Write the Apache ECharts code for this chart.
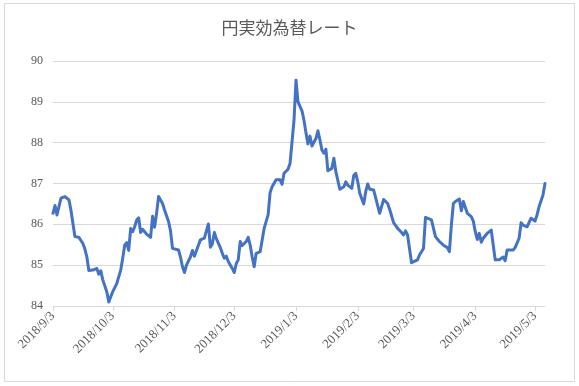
<!DOCTYPE html>
<html>
<head>
<meta charset="utf-8">
<script src="https://cdn.jsdelivr.net/npm/echarts@6/dist/echarts.min.js"></script>
<style>
html,body{margin:0;padding:0;background:#fff;}
#c{width:579px;height:386px;}
</style>
</head>
<body>
<div id="c"></div>
<script>
const title = '円実効為替レート';
const dates = [
'2018-09-03','2018-09-04','2018-09-05','2018-09-06','2018-09-07','2018-09-09','2018-09-10','2018-09-11','2018-09-12','2018-09-13',
'2018-09-14','2018-09-16','2018-09-17','2018-09-18','2018-09-19','2018-09-20','2018-09-21','2018-09-23','2018-09-24','2018-09-25',
'2018-09-26','2018-09-27','2018-09-28','2018-09-30','2018-10-01','2018-10-02','2018-10-03','2018-10-04','2018-10-05','2018-10-07',
'2018-10-08','2018-10-09','2018-10-10','2018-10-11','2018-10-12','2018-10-13','2018-10-14','2018-10-15','2018-10-16','2018-10-17',
'2018-10-18','2018-10-19','2018-10-20','2018-10-22','2018-10-23','2018-10-24','2018-10-25','2018-10-26','2018-10-28','2018-10-29',
'2018-10-31','2018-11-01','2018-11-02','2018-11-03','2018-11-05','2018-11-06','2018-11-07','2018-11-08','2018-11-09','2018-11-11',
'2018-11-12','2018-11-13','2018-11-14','2018-11-15','2018-11-16','2018-11-18','2018-11-19','2018-11-20','2018-11-21','2018-11-22',
'2018-11-23','2018-11-24','2018-11-26','2018-11-27','2018-11-28','2018-11-29','2018-11-30','2018-12-02','2018-12-03','2018-12-04',
'2018-12-05','2018-12-06','2018-12-07','2018-12-09','2018-12-10','2018-12-11','2018-12-12','2018-12-13','2018-12-14','2018-12-16',
'2018-12-17','2018-12-18','2018-12-19','2018-12-20','2018-12-21','2018-12-22','2018-12-24','2018-12-26','2018-12-27','2018-12-28',
'2018-12-30','2018-12-31','2019-01-01','2019-01-02','2019-01-03','2019-01-04','2019-01-06','2019-01-07','2019-01-08','2019-01-09',
'2019-01-10','2019-01-11','2019-01-13','2019-01-14','2019-01-15','2019-01-16','2019-01-17','2019-01-18','2019-01-19','2019-01-20',
'2019-01-21','2019-01-22','2019-01-23','2019-01-24','2019-01-25','2019-01-27','2019-01-28','2019-01-29','2019-01-31','2019-02-01',
'2019-02-02','2019-02-03','2019-02-04','2019-02-06','2019-02-07','2019-02-08','2019-02-09','2019-02-11','2019-02-12','2019-02-14',
'2019-02-15','2019-02-16','2019-02-18','2019-02-19','2019-02-21','2019-02-22','2019-02-23','2019-02-25','2019-02-26','2019-02-27',
'2019-02-28','2019-03-02','2019-03-03','2019-03-05','2019-03-06','2019-03-08','2019-03-09','2019-03-10','2019-03-12','2019-03-14',
'2019-03-16','2019-03-18','2019-03-20','2019-03-21','2019-03-22','2019-03-23','2019-03-24','2019-03-26','2019-03-27','2019-03-28',
'2019-03-29','2019-03-30','2019-04-01','2019-04-02','2019-04-03','2019-04-04','2019-04-05','2019-04-06','2019-04-07','2019-04-09',
'2019-04-10','2019-04-11','2019-04-12','2019-04-13','2019-04-15','2019-04-16','2019-04-17','2019-04-18','2019-04-19','2019-04-22',
'2019-04-23','2019-04-25','2019-04-26','2019-04-27','2019-04-29','2019-04-30','2019-05-01','2019-05-02','2019-05-03','2019-05-04',
'2019-05-05','2019-05-07','2019-05-08'
];
const values = [
86.27,86.46,86.23,86.20,86.64,86.68,86.70,86.60,86.35,86.02,
85.70,85.68,85.66,85.53,85.40,85.20,84.87,84.88,84.92,84.92,
84.78,84.86,84.64,84.35,84.10,84.23,84.35,84.38,84.55,84.88,
85.17,85.49,85.55,85.36,85.90,85.82,85.94,86.10,86.16,85.80,
85.88,85.82,85.76,85.68,86.20,85.93,86.27,86.68,86.51,86.35,
86.07,85.84,85.41,85.40,85.37,85.20,84.96,84.82,85.00,85.20,
85.36,85.22,85.19,85.49,85.62,85.66,85.68,86.01,85.44,85.52,
85.80,85.65,85.43,85.29,85.17,85.22,85.09,84.92,84.82,85.04,
85.13,85.58,85.48,85.58,85.68,85.49,85.20,84.96,85.29,85.33,
85.37,85.90,85.93,86.23,86.78,86.92,87.09,87.09,86.98,87.25,
87.35,87.49,87.49,88.55,89.53,89.00,88.78,88.55,88.24,87.97,
88.16,87.92,88.10,88.29,88.07,87.82,87.74,87.84,87.31,87.33,
87.37,87.62,87.29,87.25,86.86,86.92,87.04,86.96,86.88,87.20,
87.25,87.04,86.76,86.50,86.80,86.99,86.86,86.84,86.80,86.27,
86.25,86.61,86.51,86.37,86.04,86.01,85.90,85.80,85.74,85.84,
85.74,85.06,85.09,85.13,85.25,85.41,86.17,86.15,86.11,85.70,
85.58,85.49,85.43,85.33,85.98,86.51,86.56,86.62,86.33,86.56,
86.56,86.27,86.19,86.08,85.82,85.63,85.78,85.56,85.66,85.78,
85.78,85.86,85.86,85.13,85.13,85.17,85.20,85.11,85.37,85.37,
85.43,85.66,86.04,85.98,85.94,85.90,86.15,86.15,86.08,86.23,
86.43,86.72,87.00
];
const tickLabels = ['2018/9/3','2018/10/3','2018/11/3','2018/12/3','2019/1/3','2019/2/3','2019/3/3','2019/4/3','2019/5/3'];
const axisStart = '2018/9/3';
const axisEnd = '2019/5/8';
const yMin = 84, yMax = 90, yStep = 1;

function toTime(s){
  const p = s.split(/[\/-]/).map(Number);
  return new Date(p[0], p[1]-1, p[2]).getTime();
}
function fmt(v){
  const d = new Date(v);
  return d.getFullYear() + '/' + (d.getMonth()+1) + '/' + d.getDate();
}
const tickTimes = tickLabels.map(toTime);
const seriesData = dates.map((d,i)=>[toTime(d), values[i]]);

const chart = echarts.init(document.getElementById('c'), null, {renderer:'canvas'});
chart.setOption({
  animation:false,
  backgroundColor:'#ffffff',
  title:{
    text:title,
    left:'center',
    top:14,
    textStyle:{fontFamily:'"Noto Sans CJK JP"',fontSize:17,fontWeight:'normal',color:'#595959'}
  },
  graphic:[{
    type:'rect',
    shape:{x:4.5,y:3.5,width:570,height:378},
    style:{fill:'none',stroke:'#d9d9d9',lineWidth:1},
    silent:true,z:-1
  }],
  grid:{left:53,right:34,top:61,bottom:80,containLabel:false},
  xAxis:{
    type:'value',
    min:toTime(axisStart),
    max:toTime(axisEnd),
    axisLine:{show:true,lineStyle:{color:'#d9d9d9',width:1}},
    axisTick:{show:true,customValues:tickTimes,length:5,lineStyle:{color:'#d9d9d9'}},
    axisLabel:{
      customValues:tickTimes,
      rotate:45,
      formatter:fmt,
      fontFamily:'"Liberation Serif"',
      fontSize:13,
      color:'#595959',
      margin:8,
      hideOverlap:false
    },
    splitLine:{show:false}
  },
  yAxis:{
    type:'value',
    min:yMin,max:yMax,interval:yStep,
    axisLine:{show:false},
    axisTick:{show:false},
    axisLabel:{fontFamily:'"Liberation Serif"',fontSize:12,color:'#595959',margin:10},
    splitLine:{lineStyle:{color:'#d9d9d9',width:1}}
  },
  series:[{
    type:'line',
    data:seriesData,
    showSymbol:false,
    symbol:'none',
    lineStyle:{color:'#4472C4',width:3,join:'round',cap:'round'},
    itemStyle:{color:'#4472C4'}
  }]
});
</script>
</body>
</html>
